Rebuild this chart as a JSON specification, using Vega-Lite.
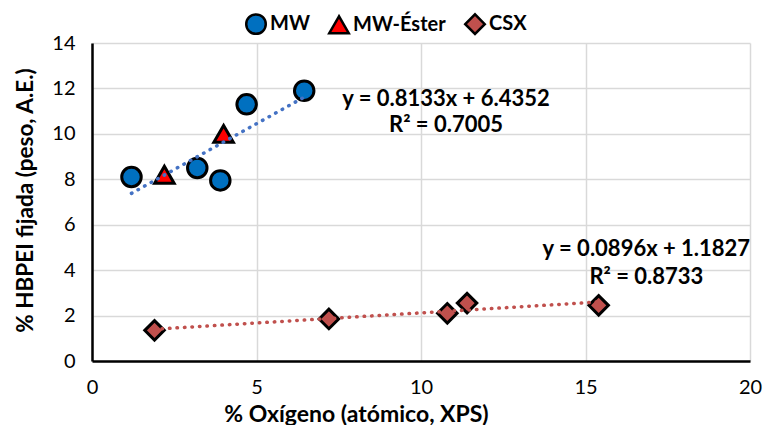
{
  "$schema": "https://vega.github.io/schema/vega-lite/v6.json",
  "width": 658,
  "height": 318,
  "autosize": {"type": "none"},
  "padding": {"left": 92, "top": 43, "right": 16, "bottom": 64},
  "config": {
    "view": {"stroke": null},
    "font": "Lato",
    "axis": {
      "grid": true,
      "gridColor": "#D9D9D9",
      "gridWidth": 1.5,
      "domainColor": "#000000",
      "domainWidth": 2.5,
      "ticks": false,
      "labelFontSize": 20,
      "labelColor": "#000000",
      "labelFont": "Lato",
      "labelFlush": false,
      "titleFont": "Lato",
      "titleFontWeight": "bold",
      "titleColor": "#000000"
    }
  },
  "datasets": {
    "pts": [
      {"x": 1.2, "y": 8.1, "serie": "MW"},
      {"x": 3.2, "y": 8.5, "serie": "MW"},
      {"x": 3.9, "y": 7.95, "serie": "MW"},
      {"x": 4.7, "y": 11.3, "serie": "MW"},
      {"x": 6.45, "y": 11.9, "serie": "MW"},
      {"x": 2.2, "y": 8.2, "serie": "MW-Éster"},
      {"x": 4.0, "y": 10.0, "serie": "MW-Éster"},
      {"x": 1.9, "y": 1.35, "serie": "CSX"},
      {"x": 7.2, "y": 1.85, "serie": "CSX"},
      {"x": 10.8, "y": 2.1, "serie": "CSX"},
      {"x": 11.4, "y": 2.55, "serie": "CSX"},
      {"x": 15.4, "y": 2.45, "serie": "CSX"}
    ],
    "labels": [
      {"x": 10.76, "y": 11.55, "label": "y = 0.8133x + 6.4352"},
      {"x": 10.76, "y": 10.4, "label": "R² = 0.7005"},
      {"x": 16.85, "y": 4.95, "label": "y = 0.0896x + 1.1827"},
      {"x": 16.85, "y": 3.72, "label": "R² = 0.8733"}
    ]
  },
  "layer": [
    {
      "data": {"name": "pts"},
      "mark": {"type": "point", "filled": true, "stroke": "#000000", "strokeWidth": 3, "opacity": 1},
      "encoding": {
        "x": {
          "field": "x", "type": "quantitative",
          "scale": {"domain": [0, 20], "nice": false},
          "axis": {"values": [0, 5, 10, 15, 20], "title": "% Oxígeno (atómico, XPS)", "labelPadding": 16, "titleFontSize": 23, "titleX": 264, "titleY": 53, "titleBaseline": "middle", "titleAlign": "center"}
        },
        "y": {
          "field": "y", "type": "quantitative",
          "scale": {"domain": [0, 14], "nice": false},
          "axis": {"values": [0, 2, 4, 6, 8, 10, 12, 14], "title": "% HBPEI fijada (peso, A.E.)", "labelPadding": 17, "titleFontSize": 22.5, "titleX": -67, "titleY": 157, "titleBaseline": "middle", "titleAlign": "center", "titleAngle": -90}
        },
        "color": {
          "field": "serie", "type": "nominal",
          "scale": {"domain": ["MW", "MW-Éster", "CSX"], "range": ["#0070C0", "#FF0000", "#C0504D"]},
          "legend": {"orient": "none", "legendX": 153, "legendY": -30, "direction": "horizontal", "title": null, "labelFontSize": 20, "labelFontWeight": "bold", "labelColor": "#000000", "symbolStrokeColor": "#000000", "symbolStrokeWidth": 2.5, "symbolSize": 140, "columnPadding": 14, "labelOffset": 3}
        },
        "shape": {
          "field": "serie", "type": "nominal",
          "scale": {"domain": ["MW", "MW-Éster", "CSX"], "range": ["circle", "triangle-up", "diamond"]},
          "legend": {"orient": "none", "legendX": 153, "legendY": -30, "direction": "horizontal", "title": null, "labelFontSize": 20, "labelFontWeight": "bold", "labelColor": "#000000", "symbolStrokeColor": "#000000", "symbolStrokeWidth": 2.5, "symbolSize": 140, "columnPadding": 14, "labelOffset": 3}
        },
        "size": {
          "field": "serie", "type": "nominal",
          "scale": {"domain": ["MW", "MW-Éster", "CSX"], "range": [380, 380, 300]},
          "legend": null
        }
      }
    },
    {
      "data": {"name": "pts"},
      "transform": [
        {"filter": "datum.serie === 'MW'"},
        {"regression": "y", "on": "x"}
      ],
      "mark": {"type": "line", "color": "#4472C4", "strokeWidth": 3.5, "strokeDash": [0.5, 7], "strokeCap": "round"},
      "encoding": {
        "x": {"field": "x", "type": "quantitative"},
        "y": {"field": "y", "type": "quantitative"}
      }
    },
    {
      "data": {"name": "pts"},
      "transform": [
        {"filter": "datum.serie === 'CSX'"},
        {"regression": "y", "on": "x"}
      ],
      "mark": {"type": "line", "color": "#C0504D", "strokeWidth": 3.5, "strokeDash": [0.5, 7], "strokeCap": "round"},
      "encoding": {
        "x": {"field": "x", "type": "quantitative"},
        "y": {"field": "y", "type": "quantitative"}
      }
    },
    {
      "data": {"name": "labels"},
      "mark": {"type": "text", "fontSize": 22, "fontWeight": "bold", "color": "#000000", "font": "Lato"},
      "encoding": {
        "x": {"field": "x", "type": "quantitative"},
        "y": {"field": "y", "type": "quantitative"},
        "text": {"field": "label"}
      }
    }
  ]
}
